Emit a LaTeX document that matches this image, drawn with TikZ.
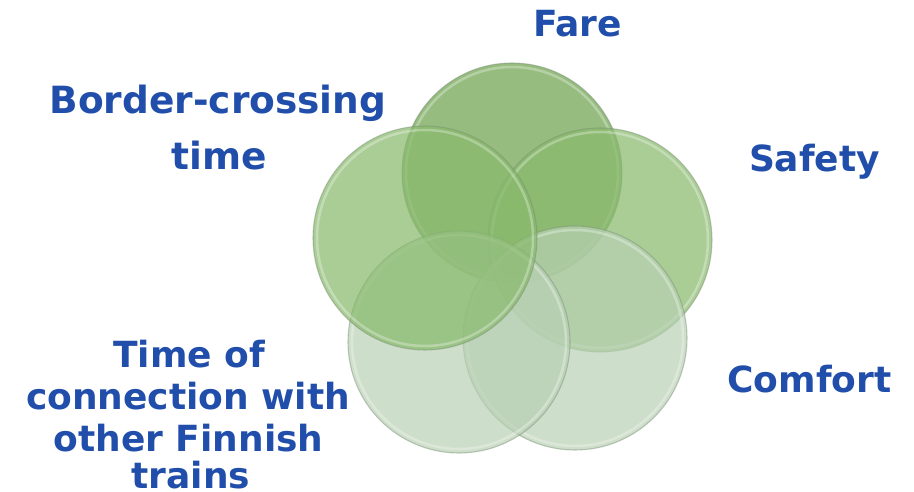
\documentclass[tikz,border=0pt]{standalone}
\usepackage{fontspec}
\setmainfont{DejaVu Sans}
\definecolor{lbl}{RGB}{32,78,170}
\definecolor{gTop}{RGB}{115,165,85}
\definecolor{gMid}{RGB}{135,185,107}
\definecolor{gLow}{RGB}{184,208,179}
\definecolor{rim}{RGB}{120,140,115}
\begin{document}
\begin{tikzpicture}[x=1pt,y=-1pt,
  lbl/.style={font=\fontsize{36}{42}\selectfont\bfseries, text=lbl, inner sep=0pt, anchor=base},
  rimline/.style={draw=rim, draw opacity=0.45, line width=1.1pt},
  glow/.style={draw=white, draw opacity=0.30, line width=2.5pt}]
\useasboundingbox (0,0) rectangle (914,492);
% circles
\coordinate (cF) at (512,173);
\coordinate (cS) at (600,240);
\coordinate (cC) at (575,338);
\coordinate (cT) at (459,342);
\coordinate (cB) at (425,238);
\fill[gTop, fill opacity=0.75] (cF) circle (110pt);
\draw[glow] (cF) circle (106pt);
\draw[rimline] (cF) circle (110pt);
\fill[gMid, fill opacity=0.71] (cS) circle (112pt);
\draw[glow] (cS) circle (108pt);
\draw[rimline] (cS) circle (112pt);
\fill[gLow, fill opacity=0.70] (cC) circle (112pt);
\draw[glow] (cC) circle (108pt);
\draw[rimline] (cC) circle (112pt);
\fill[gLow, fill opacity=0.70] (cT) circle (111pt);
\draw[glow] (cT) circle (107pt);
\draw[rimline] (cT) circle (111pt);
\fill[gMid, fill opacity=0.71] (cB) circle (112pt);
\draw[glow] (cB) circle (108pt);
\draw[rimline] (cB) circle (112pt);
% labels
\node[lbl] (fare) at (577.5,37) {Fare};
\node[lbl] (safety) at (814.5,172) {Safety};
\node[lbl] (comfort) at (809.5,392) {Comfort};
\node[lbl, font=\fontsize{37.5}{42}\selectfont\bfseries] (border1) at (218,114) {Border-crossing};
\node[lbl, font=\fontsize{37.5}{42}\selectfont\bfseries] (border2) at (219,170) {time};
\node[lbl] (time1) at (189,367) {Time of};
\node[lbl] (time2) at (188,409) {connection with};
\node[lbl] (time3) at (188.5,451) {other Finnish};
\node[lbl] (time4) at (191,488) {trains};
\end{tikzpicture}
\end{document}
